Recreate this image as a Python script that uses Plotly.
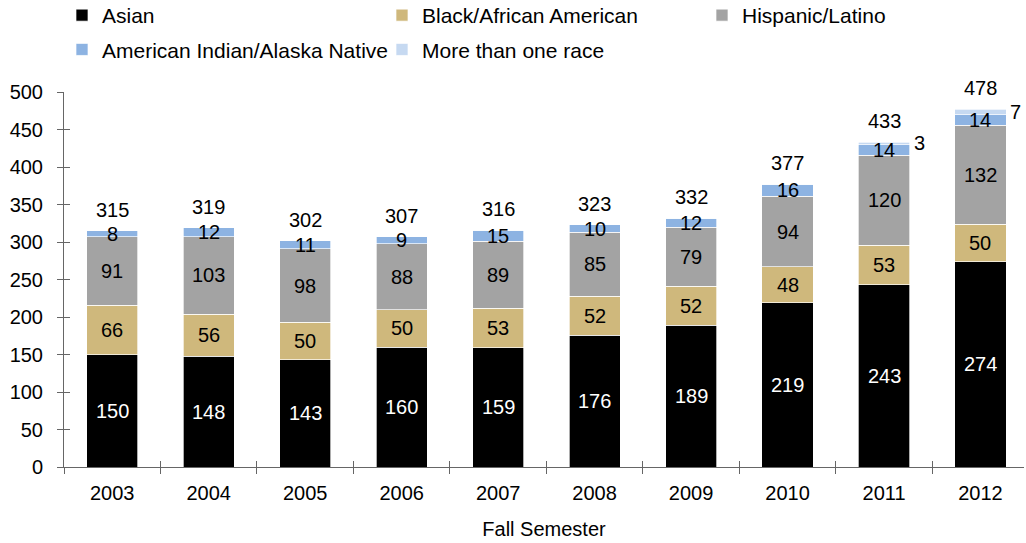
import plotly.graph_objects as go

# Fall enrollment by race/ethnicity
years = ["2003", "2004", "2005", "2006", "2007", "2008", "2009", "2010", "2011", "2012"]
asian = [150, 148, 143, 160, 159, 176, 189, 219, 243, 274]
black = [66, 56, 50, 50, 53, 52, 52, 48, 53, 50]
hispanic = [91, 103, 98, 88, 89, 85, 79, 94, 120, 132]
am_indian = [8, 12, 11, 9, 15, 10, 12, 16, 14, 14]
multi_race = [0, 0, 0, 0, 0, 0, 0, 0, 3, 7]
totals = [315, 319, 302, 307, 316, 323, 332, 377, 433, 478]

FONT = "Liberation Sans, Arial, Helvetica, sans-serif"
FS = 20
LEGEND_FS = 21
AXIS_COLOR = "#666666"
BAR_WIDTH = 0.53

series = [
    ("Asian", asian, "#000000", "white", "legend"),
    ("Black/African American", black, "#CFB87C", "black", "legend2"),
    ("Hispanic/Latino", hispanic, "#A3A3A3", "black", "legend3"),
    ("American Indian/Alaska Native", am_indian, "#8DB3E2", "black", "legend"),
    ("More than one race", multi_race, "#C6D9F1", "black", "legend2"),
]

fig = go.Figure()
for name, vals, color, _, leg in series:
    fig.add_trace(go.Bar(
        x=years, y=vals, name=name, legend=leg, legendgroup=name,
        marker=dict(color=color, line=dict(color="rgba(255,255,255,0.85)", width=0.8)),
        width=BAR_WIDTH, hoverinfo="skip",
    ))

# invisible trace that carries the overlaid axes for the inner tick marks
fig.add_trace(go.Scatter(
    x=years, y=totals, xaxis="x2", yaxis="y2", mode="markers",
    marker=dict(opacity=0), showlegend=False, hoverinfo="skip",
))

# category positions are addressed by index (the year strings look numeric)
annotations = []
base = [0] * len(years)
for name, vals, color, txtcolor, _ in series:
    for i, v in enumerate(vals):
        if v <= 0:
            continue
        mid = base[i] + v / 2
        if name == "More than one race":
            annotations.append(dict(
                x=i + BAR_WIDTH / 2, y=mid, xref="x", yref="y", text=str(v),
                showarrow=False, xanchor="left", yanchor="middle", xshift=2,
                font=dict(family=FONT, size=FS, color="black"),
            ))
        else:
            annotations.append(dict(
                x=i, y=mid, xref="x", yref="y", text=str(v),
                showarrow=False, xanchor="center", yanchor="middle",
                font=dict(family=FONT, size=FS, color=txtcolor),
            ))
        base[i] += v

for i, t in enumerate(totals):
    annotations.append(dict(
        x=i, y=base[i], xref="x", yref="y", text=str(t),
        showarrow=False, xanchor="center", yanchor="bottom", yshift=8,
        font=dict(family=FONT, size=FS, color="black"),
    ))

x_range = [-0.5, 9.451]
legend_common = dict(
    orientation="v", xref="container", yref="paper", yanchor="top",
    y=1.0 + 97 / 375, font=dict(family=FONT, size=LEGEND_FS, color="black"),
    traceorder="grouped", tracegroupgap=4, bgcolor="rgba(0,0,0,0)",
    itemclick=False, itemdoubleclick=False,
)

fig.update_layout(
    width=1026, height=543,
    margin=dict(l=64, r=2, t=92, b=76, autoexpand=False),
    paper_bgcolor="white", plot_bgcolor="white",
    barmode="stack",
    font=dict(family=FONT, size=FS, color="black"),
    showlegend=True,
    legend=dict(x=62 / 1026, xanchor="left", **legend_common),
    legend2=dict(x=382 / 1026, xanchor="left", **legend_common),
    legend3=dict(x=702 / 1026, xanchor="left", **legend_common),
    xaxis=dict(
        type="category", categoryorder="array", categoryarray=years,
        range=x_range, tickson="boundaries", automargin=False,
        ticks="outside", ticklen=6, tickcolor=AXIS_COLOR, tickwidth=1,
        showline=True, linecolor=AXIS_COLOR, linewidth=1,
        showgrid=False, zeroline=False, tickangle=0,
        tickfont=dict(family=FONT, size=FS, color="black"),
        ticklabelstandoff=8,
        title=dict(text="Fall Semester", font=dict(family=FONT, size=FS, color="black"), standoff=18),
    ),
    xaxis2=dict(
        type="category", categoryorder="array", categoryarray=years,
        range=x_range, overlaying="x", anchor="y", side="bottom",
        tickson="boundaries", ticks="inside", ticklen=6, tickcolor=AXIS_COLOR,
        showticklabels=False, showline=False, showgrid=False, zeroline=False,
    ),
    yaxis=dict(
        range=[0, 500], dtick=50, tick0=0, automargin=False,
        ticks="outside", ticklen=6, tickcolor=AXIS_COLOR, tickwidth=1,
        showline=True, linecolor=AXIS_COLOR, linewidth=1,
        showgrid=False, zeroline=False,
        tickfont=dict(family=FONT, size=FS, color="black"),
        ticklabelstandoff=10,
    ),
    yaxis2=dict(
        range=[0, 500], dtick=50, tick0=0, overlaying="y", anchor="x", side="left",
        ticks="inside", ticklen=6, tickcolor=AXIS_COLOR,
        showticklabels=False, showline=False, showgrid=False, zeroline=False,
    ),
    annotations=annotations,
)

fig.write_html("out.html")
